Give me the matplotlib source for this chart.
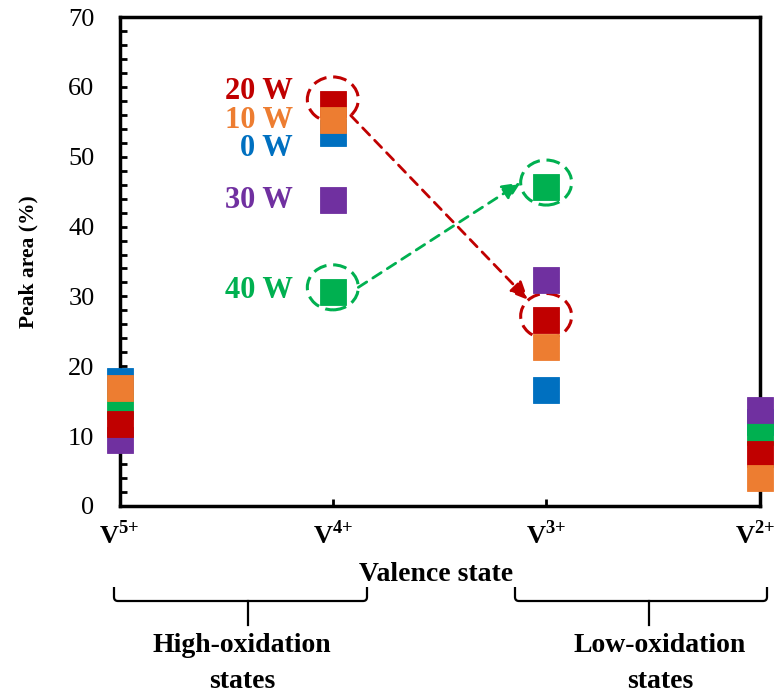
import math
import matplotlib
matplotlib.use("Agg")
import matplotlib.pyplot as plt
import matplotlib.transforms as mtransforms
from matplotlib.patches import Ellipse, PathPatch
from matplotlib.path import Path
from matplotlib.lines import Line2D

plt.rcParams['font.family'] = ['Liberation Serif', 'DejaVu Serif']
plt.rcParams['mathtext.fontset'] = 'custom'
plt.rcParams['mathtext.rm'] = 'Liberation Serif'
plt.rcParams['mathtext.bf'] = 'Liberation Serif:bold'

# Peak-area shares of each vanadium valence state (%)
valence_labels = [r'$\mathbf{V}^{\mathbf{5{+}}}$', r'$\mathbf{V}^{\mathbf{4{+}}}$',
                  r'$\mathbf{V}^{\mathbf{3{+}}}$', r'$\mathbf{V}^{\mathbf{2{+}}}$']
area_0W = [17.9, 53.4, 16.6, 12.0]
area_10W = [16.9, 55.3, 22.8, 4.0]
area_20W = [11.8, 57.6, 26.6, 7.4]
area_30W = [9.4, 43.8, 32.3, 13.8]
area_40W = [14.3, 30.7, 45.7, 10.6]

power_labels = ['0 W', '10 W', '20 W', '30 W', '40 W']
label_y = [51.2, 55.2, 59.3, 43.8, 30.9]

colors = {'0 W': '#0070C0', '10 W': '#ED7D31', '20 W': '#C00000',
          '30 W': '#7030A0', '40 W': '#00B050'}
series = {'0 W': area_0W, '10 W': area_10W, '20 W': area_20W,
          '30 W': area_30W, '40 W': area_40W}
draw_order = ['0 W', '40 W', '30 W', '20 W', '10 W']

W, H = 778, 693
fig = plt.figure(figsize=(W / 100, H / 100), dpi=100)
ax_l, ax_r, ax_t, ax_b = 119.5, 759.5, 17, 506
ax = fig.add_axes([ax_l / W, 1 - ax_b / H, (ax_r - ax_l) / W, (ax_b - ax_t) / H])

x = list(range(len(valence_labels)))
for i, key in enumerate(draw_order):
    c = colors[key]
    ax.plot(x, series[key], ls='none', marker='s', ms=19, mew=0.6,
            mfc=c, mec=c, clip_on=False, zorder=3 + i * 0.1)

ax.set_xlim(0, 3)
ax.set_ylim(0, 70)
ax.set_xticks(x)
ax.set_xticklabels(valence_labels, fontsize=19)
ax.set_yticks(range(0, 71, 10))
ax.set_yticks(range(0, 71, 2), minor=True)
ax.tick_params(axis='y', which='both', direction='in', length=5, width=2,
               labelsize=19, pad=18)
ax.tick_params(axis='x', which='both', direction='in', length=5, width=2, pad=10)
ax.tick_params(axis='x', which='minor', length=0)
for s in ax.spines.values():
    s.set_linewidth(2.5)
    s.set_color('black')

# keep the last category label inside the canvas
last = ax.get_xticklabels()[-1]
last.set_transform(last.get_transform() +
                   mtransforms.ScaledTranslation(-4 / 100, 0, fig.dpi_scale_trans))

# power labels beside the V4+ column
for key, ly in zip(power_labels, label_y):
    ax.text(0.813, ly, key, color=colors[key], fontsize=22, fontweight='bold',
            ha='right', va='center')

# dashed rings around the tracked points
px_per_x = (ax_r - ax_l) / 3
px_per_y = (ax_b - ax_t) / 70
ring_a, ring_b = 25.5, 22.5          # ring semi-axes in pixels
ring_shift = 0.6                     # rings sit slightly above the marker
for xi, key in [(1, '20 W'), (2, '20 W'), (1, '40 W'), (2, '40 W')]:
    yv = series[key][xi] + ring_shift
    ax.add_patch(Ellipse((xi, yv), 2 * ring_a / px_per_x, 2 * ring_b / px_per_y,
                         fill=False, ec=colors[key], lw=2.2, ls=(0, (4.5, 2.2)),
                         zorder=2.5, clip_on=False))


def ring_edge(xc, yc, theta):
    return (xc + ring_a * math.cos(theta) / px_per_x,
            yc + ring_b * math.sin(theta) / px_per_y)


# arrows showing the shift between V4+ and V3+
for key, use_axis in [('20 W', False), ('40 W', True)]:
    c = colors[key]
    x1, y1 = 1, series[key][1] + ring_shift
    x2, y2 = 2, series[key][2] + ring_shift
    if use_axis:
        t1, t2 = 0.0, math.pi
    else:
        t1 = math.atan2((y2 - y1) * px_per_y, (x2 - x1) * px_per_x)
        t2 = t1 + math.pi
    ax.annotate('', xy=ring_edge(x2, y2, t2), xytext=ring_edge(x1, y1, t1),
                arrowprops=dict(arrowstyle='-|>,head_length=0.55,head_width=0.25',
                                mutation_scale=20, color=c, lw=2,
                                ls=(0, (3.6, 2.6)), shrinkA=0, shrinkB=0),
                zorder=2.6)

# axis titles
fig.text(28 / W, 1 - 261.5 / H, 'Peak area (%)', rotation=90, fontsize=15.5,
         fontweight='bold', ha='center', va='center')
fig.text(436 / W, 1 - 581 / H, 'Valence state', fontsize=20, fontweight='bold',
         ha='center', va='baseline')


def fx(px):
    return px / W


def fy(py):
    return 1 - py / H


def brace(x0, x1, xc, y_top=587, y_bar=601, y_tip=625, r=4):
    verts = [(x0, y_top), (x0, y_bar - r), (x0, y_bar), (x0 + r, y_bar),
             (x1 - r, y_bar), (x1, y_bar), (x1, y_bar - r), (x1, y_top)]
    codes = [Path.MOVETO, Path.LINETO, Path.CURVE3, Path.CURVE3,
             Path.LINETO, Path.CURVE3, Path.CURVE3, Path.LINETO]
    path = Path([(fx(a), fy(b)) for a, b in verts], codes)
    fig.add_artist(PathPatch(path, fill=False, lw=1.6, ec='black',
                             transform=fig.transFigure))
    fig.add_artist(Line2D([fx(xc), fx(xc)], [fy(y_bar), fy(y_tip)], lw=1.6,
                          color='black', transform=fig.transFigure))


brace(114, 367, 248)
brace(515, 767, 649)

fig.text(fx(242), fy(652), 'High-oxidation', fontsize=20, fontweight='bold',
         ha='center', va='baseline')
fig.text(fx(242), fy(688), 'states', fontsize=20, fontweight='bold',
         ha='center', va='baseline')
fig.text(fx(660), fy(652), 'Low-oxidation', fontsize=20, fontweight='bold',
         ha='center', va='baseline')
fig.text(fx(660), fy(688), 'states', fontsize=20, fontweight='bold',
         ha='center', va='baseline')

fig.savefig('out.png', dpi=100, facecolor='white')
